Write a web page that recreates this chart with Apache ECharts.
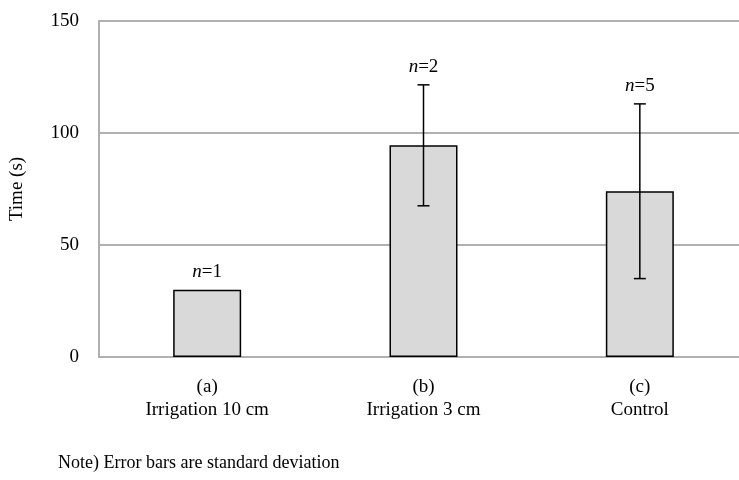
<!DOCTYPE html>
<html>
<head>
<meta charset="utf-8">
<script src="https://cdn.jsdelivr.net/npm/echarts@6/dist/echarts.min.js"></script>
<style>
  html, body { margin: 0; padding: 0; background: #fff; overflow: hidden; }
  /* a bit wider than the window: the plot runs past the right edge, like the original */
  #chart { width: 748px; height: 480px; }
</style>
</head>
<body>
<div id="chart"></div>
<script>
'use strict';
// data
var categories = ['(a)\nIrrigation 10 cm', '(b)\nIrrigation 3 cm', '(c)\nControl'];
var means = [30, 94.5, 74];
var sds = [0, 27, 39];
var counts = [1, 2, 5];
var yTicks = [0, 50, 100, 150];

var chart = echarts.init(document.getElementById('chart'));
var font = '"Liberation Serif", "Times New Roman", serif';

// error bar data: [index, low, high]
var errData = means.map(function (m, i) {
    return [i, m - sds[i], m + sds[i]];
});

var option = {
    animation: false,
    textStyle: { fontFamily: font },
    grid: { left: 97, right: 0, top: 21, bottom: 123 },
    xAxis: {
        type: 'category',
        data: categories,
        axisLine: { lineStyle: { color: '#b0b0b0', width: 2 } },
        axisTick: { show: false },
        axisLabel: { color: '#000', fontSize: 19, fontFamily: font, lineHeight: 23, margin: 19 }
    },
    yAxis: {
        type: 'value',
        min: yTicks[0],
        max: yTicks[yTicks.length - 1],
        interval: 50,
        name: 'Time (s)',
        nameLocation: 'middle',
        nameGap: 72,
        nameTextStyle: { color: '#000', fontSize: 19, fontFamily: font },
        axisLine: { show: true, lineStyle: { color: '#b0b0b0', width: 2 } },
        axisTick: { show: false },
        axisLabel: { color: '#000', fontSize: 19, fontFamily: font, margin: 20 },
        splitLine: { lineStyle: { color: '#b0b0b0', width: 2 } }
    },
    series: [
        {
            type: 'bar',
            data: means,
            barWidth: 68,
            itemStyle: { color: '#d9d9d9', borderColor: '#000', borderWidth: 1.5 },
            z: 2
        },
        {
            type: 'custom',
            data: errData,
            z: 3,
            renderItem: function (params, api) {
                var i = api.value(0);
                var lo = api.coord([i, api.value(1)]);
                var hi = api.coord([i, api.value(2)]);
                var idx = params.dataIndex;
                var children = [];
                var style = { stroke: '#000', lineWidth: 1.5 };
                if (sds[idx] > 0) {
                    children.push(
                        { type: 'line', shape: { x1: hi[0], y1: hi[1], x2: lo[0], y2: lo[1] }, style: style },
                        { type: 'line', shape: { x1: hi[0] - 6, y1: hi[1], x2: hi[0] + 6, y2: hi[1] }, style: style },
                        { type: 'line', shape: { x1: lo[0] - 6, y1: lo[1], x2: lo[0] + 6, y2: lo[1] }, style: style }
                    );
                }
                children.push({
                    type: 'text',
                    style: {
                        x: hi[0],
                        y: hi[1] - 8,
                        text: '{i|n}{r|=' + counts[idx] + '}',
                        align: 'center',
                        verticalAlign: 'bottom',
                        rich: {
                            i: { fontStyle: 'italic', fontSize: 19, fontFamily: font, fill: '#000' },
                            r: { fontSize: 19, fontFamily: font, fill: '#000' }
                        }
                    }
                });
                return { type: 'group', children: children };
            }
        }
    ],
    graphic: [
        {
            type: 'text',
            left: 58,
            top: 454,
            style: { text: 'Note) Error bars are standard deviation', fontSize: 18, fontFamily: font, fill: '#000' }
        }
    ]
};

chart.setOption(option);
</script>
</body>
</html>
